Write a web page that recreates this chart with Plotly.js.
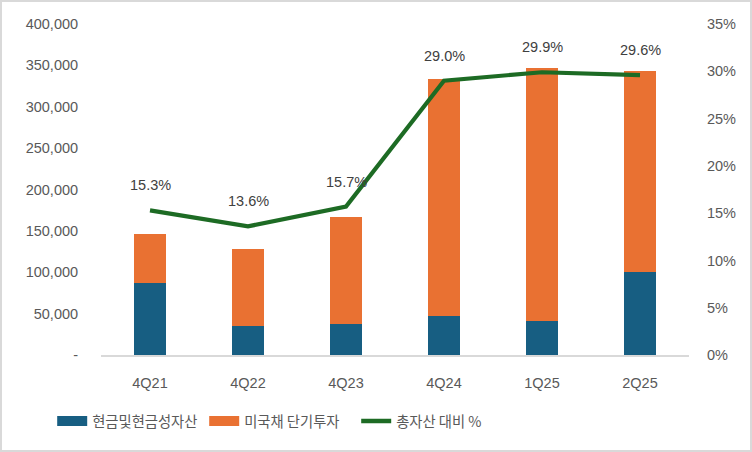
<!DOCTYPE html>
<html><head><meta charset="utf-8">
<script src="https://cdn.plot.ly/plotly-3.0.1.min.js"></script>
<style>html,body{margin:0;padding:0;background:#fff}#c{width:748px;height:448px;border:2px solid #d9d9d9}</style>
</head><body><div id="c"></div>
<script>
const categories = ['4Q21','4Q22','4Q23','4Q24','1Q25','2Q25'];
const cashValues = [87000, 35000, 37400, 47100, 41000, 100200];
const tbillValues = [59100, 93000, 129300, 286200, 305600, 242800];
const ratioValues = [15.3, 13.6, 15.7, 29.0, 29.9, 29.6];
const ratioLabels = ['15.3%','13.6%','15.7%','29.0%','29.9%','29.6%'];
const leftTickVals = [0,50000,100000,150000,200000,250000,300000,350000,400000];
const leftTickText = ['-','50,000','100,000','150,000','200,000','250,000','300,000','350,000','400,000'];
const rightTickVals = [0,5,10,15,20,25,30,35];
const rightTickText = ['0%','5%','10%','15%','20%','25%','30%','35%'];
const seriesNames = ['현금및현금성자산','미국채 단기투자','총자산 대비 %'];
const seriesColors = ['#175e82','#e97132','#1d6b24'];

const font = 'Liberation Sans, Arial, sans-serif';
const traces = [
  {type:'bar', x:categories, y:cashValues, name:seriesNames[0], marker:{color:seriesColors[0]}, showlegend:false, legendgroup:'a'},
  {type:'bar', x:categories, y:tbillValues, name:seriesNames[1], marker:{color:seriesColors[1]}, showlegend:false, legendgroup:'b'},
  {type:'scatter', mode:'lines', x:categories, y:ratioValues, yaxis:'y2', name:seriesNames[2],
   line:{color:seriesColors[2], width:4.2}, showlegend:false, legendgroup:'c'},
  // legend entries (wide rectangular swatches like the reference)
  {type:'scatter', mode:'lines', x:[null], y:[null], name:seriesNames[0], line:{color:seriesColors[0], width:11}, legendgroup:'a'},
  {type:'scatter', mode:'lines', x:[null], y:[null], name:seriesNames[1], line:{color:seriesColors[1], width:11}, legendgroup:'b'},
  {type:'scatter', mode:'lines', x:[null], y:[null], name:seriesNames[2], line:{color:seriesColors[2], width:4.5}, legendgroup:'c'}
];
const annotations = categories.map((c,i)=>({x:c, y:ratioValues[i], xref:'x', yref:'y2', text:ratioLabels[i],
  showarrow:false, yshift:25, font:{family:font, size:14.5, color:'#404040'}}));
const layout = {
  width:748, height:448, barmode:'stack', bargap:0.68,
  margin:{l:99, r:61, t:22, b:95},
  paper_bgcolor:'#fff', plot_bgcolor:'#fff', showlegend:true,
  font:{family:font, color:'#595959', size:14.5},
  xaxis:{type:'category', showgrid:false, showline:true, linecolor:'#d9d9d9', linewidth:1.5,
    ticks:'outside', ticklen:14, tickcolor:'rgba(0,0,0,0)', tickfont:{size:14.5, color:'#595959'}, fixedrange:true},
  yaxis:{range:[0,400000], tickvals:leftTickVals, ticktext:leftTickText, showgrid:false, zeroline:false,
    ticks:'outside', ticklen:19, tickcolor:'rgba(0,0,0,0)', tickfont:{size:14.5, color:'#595959'}},
  yaxis2:{range:[0,35], overlaying:'y', side:'right', tickvals:rightTickVals, ticktext:rightTickText,
    showgrid:false, zeroline:false, ticks:'outside', ticklen:14, tickcolor:'rgba(0,0,0,0)',
    tickfont:{size:14.5, color:'#595959'}},
  legend:{orientation:'h', x:-0.083, xanchor:'left', y:-0.2, yanchor:'middle',
    font:{family:'Noto Sans CJK KR, sans-serif', size:14.3, color:'#595959'}, traceorder:'normal',
    itemwidth:30, entrywidth:107, entrywidthmode:'pixels'},
  annotations:annotations
};
Plotly.newPlot('c', traces, layout, {displayModeBar:false, staticPlot:true});
</script></body></html>
